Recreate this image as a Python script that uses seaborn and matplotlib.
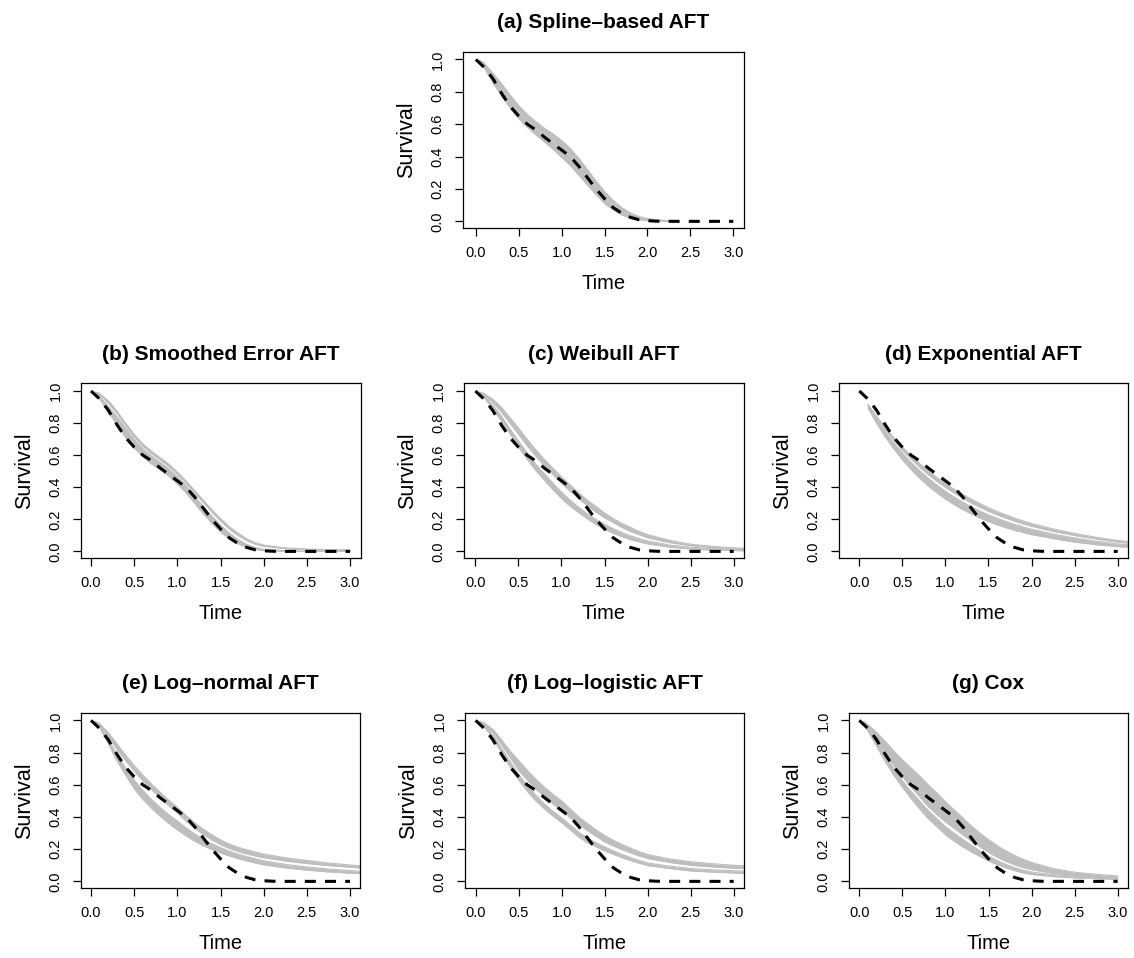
import numpy as np
import matplotlib
matplotlib.use("Agg")
import matplotlib.pyplot as plt
import seaborn as sns

sns.set_theme(style="ticks")
plt.rcParams['font.family'] = ['Liberation Sans', 'DejaVu Sans']
plt.rcParams['text.color'] = 'black'
plt.rcParams['axes.labelcolor'] = 'black'
plt.rcParams['xtick.color'] = 'black'
plt.rcParams['ytick.color'] = 'black'

nan = np.nan

# ---------------- data ----------------
TIME_GRID = [0.05, 0.1, 0.2, 0.3, 0.4, 0.5, 0.6, 0.7, 0.8, 0.9, 1.0, 1.1, 1.2,
             1.3, 1.4, 1.5, 1.6, 1.7, 1.8, 1.9, 2.0, 2.25, 2.5, 2.75, 3.0, 3.12]

TRUE_TIME = [0.0, 0.1, 0.2, 0.3, 0.4, 0.5, 0.6, 0.7, 0.8, 0.9, 1.0, 1.1, 1.2,
             1.3, 1.4, 1.5, 1.6, 1.7, 1.8, 1.9, 2.0, 2.1, 2.2, 2.3, 2.4, 2.5,
             2.6, 2.7, 2.8, 2.9, 3.0]
TRUE_SURV = [1.0, 0.95, 0.88, 0.79, 0.71, 0.65, 0.60, 0.565, 0.52, 0.48, 0.44,
             0.40, 0.34, 0.27, 0.20, 0.14, 0.085, 0.05, 0.025, 0.01, 0.004,
             0.001, 0.0, 0.0, 0.0, 0.0, 0.0, 0.0, 0.0, 0.0, 0.0]

TITLES = ["(a) Spline\u2013based AFT", "(b) Smoothed Error AFT", "(c) Weibull AFT",
          "(d) Exponential AFT", "(e) Log\u2013normal AFT", "(f) Log\u2013logistic AFT",
          "(g) Cox"]
X_TICKS = [0.0, 0.5, 1.0, 1.5, 2.0, 2.5, 3.0]
X_TICK_LABELS = ["0.0", "0.5", "1.0", "1.5", "2.0", "2.5", "3.0"]
Y_TICKS = [0.0, 0.2, 0.4, 0.6, 0.8, 1.0]
Y_TICK_LABELS = ["0.0", "0.2", "0.4", "0.6", "0.8", "1.0"]

# gray bundles of estimated curves: upper bundle (hi, lo), lower bundle (hi, lo)
A_UH = [.995, .975, .915, .85, .78, .715, .66, .615, .575, .54, .50, .45, .39, .32, .25, .185, .13, .085, .052, .03, .017, .002, nan, nan, nan, nan]
A_UL = [.99, .96, .89, .82, .745, .68, .625, .58, .54, .50, .455, .405, .345, .28, .215, .155, .105, .065, .038, .02, .011, .001, nan, nan, nan, nan]
A_LH = [.99, .96, .885, .81, .735, .67, .615, .57, .53, .49, .445, .395, .335, .27, .205, .145, .095, .06, .034, .018, .009, .001, nan, nan, nan, nan]
A_LL = [.985, .945, .855, .775, .70, .635, .58, .535, .49, .445, .395, .345, .285, .225, .165, .11, .07, .04, .02, .01, .004, .0, nan, nan, nan, nan]

B_UH = [.995, .985, .94, .875, .80, .73, .67, .625, .585, .545, .495, .44, .38, .32, .26, .205, .155, .115, .08, .055, .04, .022, .015, .011, .009, nan]
B_UL = [.99, .975, .925, .86, .785, .715, .655, .61, .57, .53, .48, .425, .365, .305, .245, .19, .14, .10, .068, .045, .032, .017, .011, .008, .006, nan]
B_LH = [.99, .965, .905, .84, .77, .70, .64, .595, .555, .515, .465, .41, .345, .28, .22, .165, .115, .075, .045, .025, .014, .004, .0015, .0, .0, nan]
B_LL = [.985, .95, .87, .79, .71, .645, .59, .545, .51, .47, .42, .365, .30, .235, .175, .12, .08, .048, .025, .012, .005, .0, .0, .0, .0, nan]

C_UH = [.995, .985, .95, .90, .835, .77, .70, .635, .575, .52, .465, .415, .365, .32, .28, .24, .205, .175, .15, .125, .105, .07, .045, .032, .022, .019]
C_UL = [.99, .975, .93, .87, .80, .73, .66, .595, .535, .48, .425, .375, .33, .285, .245, .21, .18, .15, .125, .105, .085, .055, .036, .024, .016, .013]
C_LH = [.99, .97, .915, .845, .765, .69, .615, .545, .485, .425, .37, .32, .275, .235, .20, .17, .142, .118, .098, .08, .066, .04, .026, .017, .011, .009]
C_LL = [.985, .96, .89, .815, .735, .65, .575, .505, .445, .385, .33, .282, .242, .203, .168, .138, .113, .093, .074, .059, .047, .027, .015, .008, .005, .004]

D_UH = [nan, .918, .842, .773, .709, .650, .597, .548, .503, .461, .423, .388, .356, .326, .298, .272, .249, .228, .208, .19, .174, .14, .112, .088, .068, .062]
D_UL = [nan, .912, .832, .759, .692, .631, .576, .525, .479, .437, .399, .364, .332, .302, .275, .25, .228, .208, .189, .172, .157, .125, .099, .077, .058, .052]
D_LH = [nan, .906, .822, .745, .676, .613, .555, .504, .457, .414, .375, .34, .308, .279, .252, .228, .207, .187, .169, .153, .138, .108, .084, .063, .047, .042]
D_LL = [nan, .894, .799, .715, .639, .571, .511, .457, .408, .365, .326, .292, .261, .233, .208, .186, .166, .148, .132, .118, .105, .08, .058, .042, .030, .026]

E_UH = [.995, .98, .925, .855, .785, .72, .66, .605, .555, .505, .46, .41, .365, .325, .29, .258, .233, .213, .197, .183, .17, .147, .13, .114, .102, .097]
E_UL = [.99, .97, .90, .82, .75, .685, .625, .57, .52, .47, .425, .375, .33, .292, .258, .228, .205, .186, .171, .158, .147, .127, .111, .098, .088, .083]
E_LH = [.99, .965, .88, .79, .705, .63, .565, .51, .46, .415, .375, .333, .295, .263, .235, .21, .188, .17, .155, .141, .128, .106, .09, .077, .067, .063]
E_LL = [.985, .955, .855, .75, .66, .575, .51, .455, .405, .36, .32, .283, .25, .222, .198, .177, .158, .142, .128, .115, .103, .084, .07, .059, .051, .048]

F_UH = [.995, .985, .945, .88, .81, .75, .69, .635, .585, .54, .50, .45, .40, .36, .32, .285, .255, .23, .207, .185, .167, .14, .122, .11, .10, .097]
F_UL = [.99, .975, .925, .85, .77, .69, .63, .575, .525, .48, .44, .395, .355, .315, .28, .245, .22, .198, .178, .158, .142, .118, .10, .09, .082, .08]
F_LH = [.99, .97, .91, .83, .745, .665, .595, .535, .48, .435, .395, .35, .305, .27, .24, .215, .19, .168, .148, .13, .115, .095, .08, .072, .066, .064]
F_LL = [.985, .96, .89, .80, .71, .63, .56, .50, .45, .405, .365, .32, .275, .24, .215, .19, .168, .148, .13, .113, .098, .08, .065, .058, .052, .05]

G_UH = [.995, .975, .925, .87, .81, .755, .705, .655, .60, .55, .495, .445, .395, .345, .30, .26, .222, .19, .162, .138, .118, .08, .057, .044, .034, nan]
G_UL = [.985, .955, .88, .80, .72, .65, .585, .525, .465, .415, .37, .33, .29, .25, .215, .18, .15, .125, .103, .086, .073, .05, .036, .028, .023, nan]
G_LH = [.98, .95, .87, .785, .70, .625, .56, .50, .44, .39, .34, .30, .262, .226, .19, .158, .13, .106, .086, .07, .058, .042, .032, .025, .02, nan]
G_LL = [.975, .935, .84, .745, .66, .585, .515, .45, .39, .34, .29, .25, .215, .183, .155, .128, .104, .084, .067, .053, .043, .03, .022, .017, .013, nan]

BUNDLES = [
    ((A_UH, A_UL), (A_LH, A_LL)),
    ((B_UH, B_UL), (B_LH, B_LL)),
    ((C_UH, C_UL), (C_LH, C_LL)),
    ((D_UH, D_UL), (D_LH, D_LL)),
    ((E_UH, E_UL), (E_LH, E_LL)),
    ((F_UH, F_UL), (F_LH, F_LL)),
    ((G_UH, G_UL), (G_LH, G_LL)),
]

# ---------------- layout (pixel boxes: left, right, top, bottom) ----------------
W, H = 1134, 958
BOXES = [(463, 744, 51.7, 228.3),
         (81, 361, 383.3, 558.3),
         (464, 744, 383.3, 558.3),
         (839, 1128, 383.3, 558.3),
         (81, 360, 712.7, 888.3),
         (465, 744, 712.7, 888.3),
         (849, 1128, 712.7, 888.3)]
XLIMS = [(-0.15, 3.125), (-0.116, 3.127), (-0.132, 3.12), (-0.236, 3.12),
         (-0.116, 3.116), (-0.124, 3.12), (-0.12, 3.12)]
YLIM = (-0.043, 1.048)

GRAY = "#BEBEBE"

fig = plt.figure(figsize=(W / 100, H / 100), dpi=100)
fig.patch.set_facecolor("white")

t_all = np.array(TIME_GRID, dtype=float)

for i, (title, bundles, box, xl) in enumerate(zip(TITLES, BUNDLES, BOXES, XLIMS)):
    l, r, tp, bt = box
    ax = fig.add_axes([l / W, 1 - bt / H, (r - l) / W, (bt - tp) / H])
    ax.set_facecolor("white")
    for hi, lo in bundles:
        hi = np.array(hi, dtype=float)
        lo = np.array(lo, dtype=float)
        m = ~np.isnan(hi)
        ax.fill_between(t_all[m], lo[m], hi[m], color=GRAY, lw=0, zorder=1)
        sns.lineplot(x=t_all[m], y=hi[m], ax=ax, color=GRAY, lw=0.8, zorder=2)
        sns.lineplot(x=t_all[m], y=lo[m], ax=ax, color=GRAY, lw=0.8, zorder=2)
    sns.lineplot(x=TRUE_TIME, y=TRUE_SURV, ax=ax, color="black", lw=2.2,
                 linestyle=(0, (3.6, 3.0)), zorder=3)

    ax.set_xlim(*xl)
    ax.set_ylim(*YLIM)
    ax.set_xticks(X_TICKS)
    ax.set_xticklabels(X_TICK_LABELS)
    ax.set_yticks(Y_TICKS)
    ax.set_yticklabels(Y_TICK_LABELS, rotation=90, va="center")
    ax.tick_params(axis="both", direction="out", length=5.5, width=0.9,
                   colors="black", labelsize=10.5, top=False, right=False)
    ax.tick_params(axis="x", pad=7.6)
    ax.tick_params(axis="y", pad=7.8)
    for s in ax.spines.values():
        s.set_visible(True)
        s.set_color("black")
        s.set_linewidth(0.9)

    w_px, h_px = r - l, bt - tp
    ax.set_xlabel("Time", fontsize=14.5)
    ax.xaxis.set_label_coords(0.5, -46 / h_px)
    ax.set_ylabel("Survival", fontsize=15.5)
    ax.yaxis.set_label_coords(-45.5 / w_px, 0.5)
    ax.set_title(title, fontsize=15, fontweight="bold", pad=16.8)

fig.savefig("out.png", dpi=100, facecolor="white")
